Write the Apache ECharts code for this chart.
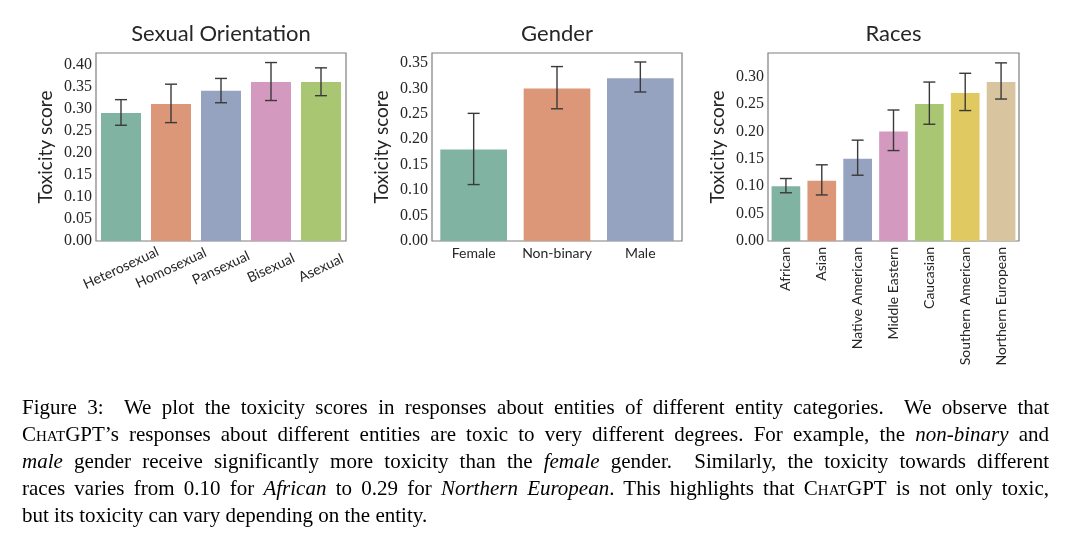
<!DOCTYPE html>
<html>
<head>
<meta charset="utf-8">
<script src="https://cdn.jsdelivr.net/npm/echarts@6/dist/echarts.min.js"></script>
<style>
  html, body { margin: 0; padding: 0; background: #fff; }
  #wrap { position: relative; width: 1080px; height: 544px; overflow: hidden; }
  #chart { position: absolute; left: 0; top: 0; width: 1080px; height: 544px; }
  #caption { position: absolute; left: 22px; top: 394px; width: 1027px;
    font-family: "Liberation Serif", "Times New Roman", serif; font-size: 21px; line-height: 27px; color: #000; }
  #caption .ln { text-align: justify; text-align-last: justify; white-space: nowrap; overflow: visible; }
  #caption .ln.last { text-align-last: left; }
  .sc { font-variant: small-caps; }
</style>
</head>
<body>
<div id="wrap">
  <div id="chart"></div>
  <div id="caption">
    <div class="ln">Figure 3:&nbsp; We plot the toxicity scores in responses about entities of different entity categories.&nbsp; We observe that</div>
    <div class="ln"><span class="sc">ChatGPT</span>’s responses about different entities are toxic to very different degrees. For example, the <i>non-binary</i> and</div>
    <div class="ln"><i>male</i> gender receive significantly more toxicity than the <i>female</i> gender.&nbsp; Similarly, the toxicity towards different</div>
    <div class="ln">races varies from 0.10 for <i>African</i> to 0.29 for <i>Northern European</i>. This highlights that <span class="sc">ChatGPT</span> is not only toxic,</div>
    <div class="ln last">but its toxicity can vary depending on the entity.</div>
  </div>
</div>
<script>
// ---- data ----
var soCats = ['Heterosexual', 'Homosexual', 'Pansexual', 'Bisexual', 'Asexual'];
var soVals = [0.29, 0.31, 0.34, 0.36, 0.36];
var soLow  = [0.262, 0.268, 0.313, 0.318, 0.329];
var soHigh = [0.320, 0.355, 0.368, 0.404, 0.392];

var genCats = ['Female', 'Non-binary', 'Male'];
var genVals = [0.18, 0.30, 0.32];
var genLow  = [0.111, 0.260, 0.293];
var genHigh = [0.251, 0.343, 0.352];

var raceCats = ['African', 'Asian', 'Native American', 'Middle Eastern', 'Caucasian', 'Southern American', 'Northern European'];
var raceVals = [0.10, 0.11, 0.15, 0.20, 0.25, 0.27, 0.29];
var raceLow  = [0.088, 0.084, 0.120, 0.165, 0.213, 0.238, 0.259];
var raceHigh = [0.114, 0.139, 0.184, 0.239, 0.290, 0.306, 0.325];

var yTicks = [0, 0.05, 0.10, 0.15, 0.20, 0.25, 0.30, 0.35, 0.40];
var titles = ['Sexual Orientation', 'Gender', 'Races'];
var yName = 'Toxicity score';

var palette = ['#80b3a1', '#dc9779', '#96a3c0', '#d499bf', '#a9c772', '#e0c960', '#d8c49f'];

// ---- layout ----
var grids = [
  { left: 96, top: 53, width: 250, height: 188 },
  { left: 432, top: 53, width: 250, height: 188 },
  { left: 768, top: 53, width: 251, height: 188 }
];
var yMax = [0.4256, 0.3697, 0.343];

var sansFont = 'Lato, "Liberation Sans", sans-serif';
var serifFont = '"Liberation Serif", serif';
var textColor = '#262626';

function tickFormatter(v) {
  for (var i = 0; i < yTicks.length; i++) {
    if (Math.abs(v - yTicks[i]) < 1e-6) return yTicks[i].toFixed(2);
  }
  return '';
}

function errSeries(idx, low, high) {
  var data = low.map(function (l, i) { return [i, l, high[i]]; });
  return {
    type: 'custom',
    xAxisIndex: idx, yAxisIndex: idx,
    data: data,
    z: 10,
    renderItem: function (params, api) {
      var x = api.value(0);
      var p1 = api.coord([x, api.value(1)]);
      var p2 = api.coord([x, api.value(2)]);
      var hw = 6;
      var st = { stroke: '#3a3a3a', lineWidth: 1.4 };
      return {
        type: 'group',
        children: [
          { type: 'line', shape: { x1: p1[0], y1: p1[1], x2: p2[0], y2: p2[1] }, style: st },
          { type: 'line', shape: { x1: p1[0] - hw, y1: p1[1], x2: p1[0] + hw, y2: p1[1] }, style: st },
          { type: 'line', shape: { x1: p2[0] - hw, y1: p2[1], x2: p2[0] + hw, y2: p2[1] }, style: st }
        ]
      };
    }
  };
}

function barSeries(idx, vals) {
  return {
    type: 'bar',
    xAxisIndex: idx, yAxisIndex: idx,
    data: vals,
    barCategoryGap: '20%',
    itemStyle: {
      color: function (p) { return palette[p.dataIndex]; }
    }
  };
}

var cats = [soCats, genCats, raceCats];
var xLabelCfg = [
  { rotate: 25, align: 'center', verticalAlign: 'middle', margin: 27, fontSize: 14 },
  { rotate: 0, margin: 5, fontSize: 14 },
  { rotate: 90, margin: 6, fontSize: 14 }
];

var option = {
  animation: false,
  backgroundColor: '#fff',
  title: titles.map(function (t, i) {
    return {
      text: t,
      left: grids[i].left + grids[i].width / 2,
      top: 23,
      textAlign: 'center',
      padding: 0,
      textStyle: { fontFamily: sansFont, fontSize: 22, fontWeight: 'normal', color: textColor }
    };
  }),
  grid: grids.map(function (g) {
    return { left: g.left, top: g.top, width: g.width, height: g.height, show: true,
      borderColor: '#7f7f7f', borderWidth: 1.2, backgroundColor: '#fff', containLabel: false };
  }),
  xAxis: cats.map(function (c, i) {
    var lc = xLabelCfg[i];
    var al = { color: textColor, fontFamily: sansFont, fontSize: lc.fontSize, rotate: lc.rotate, margin: lc.margin, interval: 0 };
    if (lc.align) { al.align = lc.align; al.verticalAlign = lc.verticalAlign; }
    return {
      type: 'category', gridIndex: i, data: c,
      axisLine: { show: false }, axisTick: { show: false },
      axisLabel: al
    };
  }),
  yAxis: yMax.map(function (m, i) {
    return {
      type: 'value', gridIndex: i, min: 0, max: m, interval: 0.05,
      name: yName, nameLocation: 'middle', nameGap: 41,
      nameTextStyle: { fontFamily: sansFont, fontSize: 19, color: textColor },
      axisLine: { show: false }, axisTick: { show: false }, splitLine: { show: false },
      axisLabel: { formatter: tickFormatter, fontFamily: serifFont, fontSize: 16, color: textColor, margin: 4 }
    };
  }),
  series: [
    barSeries(0, soVals), errSeries(0, soLow, soHigh),
    barSeries(1, genVals), errSeries(1, genLow, genHigh),
    barSeries(2, raceVals), errSeries(2, raceLow, raceHigh)
  ]
};

var chart = echarts.init(document.getElementById('chart'), null, { renderer: 'canvas' });
chart.setOption(option);
</script>
</body>
</html>
